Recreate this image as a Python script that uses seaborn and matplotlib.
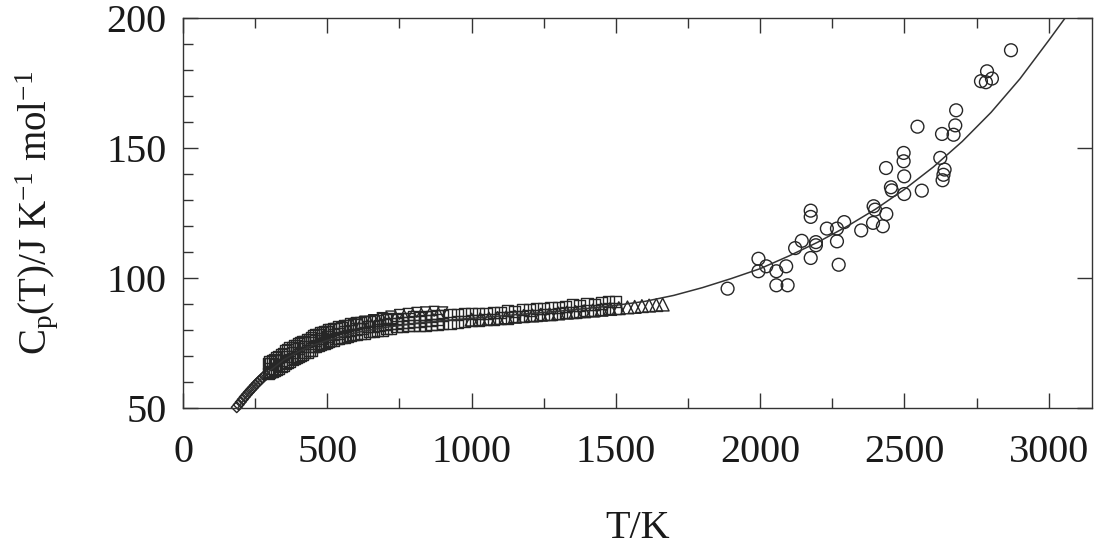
import matplotlib
matplotlib.use("Agg")
from matplotlib import pyplot as plt
from matplotlib.ticker import MultipleLocator
import seaborn as sns

# fitted curve
curve_T = [190, 220, 250, 280, 300, 350, 400, 450, 500, 600, 700, 800, 900, 1000,
           1100, 1200, 1300, 1400, 1500, 1600, 1700, 1800, 1900, 2000, 2100, 2200,
           2300, 2400, 2500, 2600, 2700, 2800, 2900, 3000, 3060, 3080]
curve_cp = [50.0, 54.6, 58.8, 62.3, 64.3, 68.6, 71.7, 74.1, 76.0, 79.0, 81.0, 82.5, 83.6, 84.5,
            85.4, 86.3, 87.2, 88.3, 89.5, 91.0, 93.3, 96.3, 99.8, 103.6, 108.5, 113.8,
            119.8, 126.5, 134.1, 142.7, 152.5, 163.7, 176.6, 191.4, 200.5, 203.5]

# diamonds (low temperature)
dia_T = [186, 193, 200, 207, 214, 221, 228, 235, 242, 249, 256, 263, 270, 277, 285]
dia_cp = [50.3, 51.3, 52.3, 53.3, 54.3, 55.2, 56.1, 57.0, 57.8, 58.7, 59.5, 60.3, 61.0, 61.8, 62.6]

# squares
sq_T = [295, 300, 305, 310, 318, 325, 332, 340, 348, 355, 362, 370, 378, 385, 392, 400,
        408, 415, 422, 430, 438, 445, 452, 460, 468, 475, 482, 490, 498, 505, 512, 520,
        530, 540, 550, 560, 570, 580, 590, 600, 615, 630, 645, 660, 675, 690, 705, 720,
        740, 760, 780, 800, 820, 840, 860, 880, 900, 925, 950, 975, 1000, 1025, 1050,
        1075, 1100, 1125, 1150, 1175, 1200, 1225, 1250, 1275, 1300, 1325, 1350, 1375,
        1400, 1425, 1450, 1475, 1500]
sq_cp_hi = [67.0, 67.8, 67.2, 68.1, 68.5, 69.3, 69.6, 70.5, 70.8, 72.1, 72.4, 73.1, 73.4, 74.0, 74.1, 74.8,
            75.1, 75.6, 75.7, 76.4, 76.5, 77.1, 77.7, 78.3, 78.2, 78.9, 79.0, 79.5, 79.4, 80.1, 80.0, 80.6,
            80.6, 81.2, 81.1, 81.7, 81.7, 82.3, 82.1, 82.7, 82.8, 83.3, 83.2, 83.8, 83.7, 84.3, 84.2, 84.4,
            84.0, 84.5, 84.4, 85.0, 84.9, 85.3, 85.2, 85.7, 85.6, 86.1, 86.0, 86.5, 86.2, 86.5, 86.4,
            86.9, 86.8, 87.4, 87.2, 87.8, 87.7, 88.2, 88.3, 88.6, 88.7, 89.0, 89.6, 89.4,
            90.0, 89.7, 90.4, 91.1, 90.9]
sq_cp_lo = [63.2, 63.6, 64.0, 63.9, 64.6, 65.0, 65.4, 66.1, 66.5, 67.0, 67.6, 67.9, 68.6, 68.9, 69.5, 69.8,
            70.4, 70.6, 71.2, 71.4, 72.0, 72.1, 73.5, 73.6, 74.2, 74.3, 74.8, 74.9, 75.4, 75.5, 76.0, 76.0,
            76.6, 76.6, 77.2, 77.2, 77.7, 77.8, 78.2, 78.3, 78.8, 78.8, 79.4, 79.4, 80.0, 80.0, 80.6, 80.6,
            81.2, 81.3, 81.6, 81.6, 81.6, 81.6, 82.1, 82.1, 82.6, 82.7, 83.1, 83.2, 83.6, 83.7, 84.1,
            84.2, 84.6, 84.6, 85.1, 85.1, 85.5, 85.6, 86.0, 86.1, 86.4, 86.6, 86.9, 87.0,
            87.4, 87.6, 87.9, 88.2, 88.4]
sq2_T = [300, 320, 340, 360, 380, 400, 420, 440, 460, 480, 500, 520, 540, 560, 580, 600,
         620, 640, 660, 680, 700, 720, 740, 760, 780, 800, 820, 840, 860, 880]
sq2_cp = [65.2, 66.8, 68.4, 69.8, 71.4, 72.8, 73.7, 75.0, 75.8, 76.8, 77.4, 78.3, 78.7, 79.4, 79.8, 80.4,
          80.6, 81.2, 81.4, 81.9, 82.0, 82.5, 82.5, 83.0, 82.9, 83.4, 83.4, 83.8, 83.8, 84.2]

# inverted triangles
vt_T = [600, 630, 660, 690, 720, 750, 780, 810, 840, 870, 900]
vt_cp = [82.8, 83.4, 84.0, 84.8, 85.4, 86.0, 86.4, 86.8, 87.0, 87.2, 87.0]

# triangles
tri_T = [1000, 1030, 1060, 1090, 1120, 1150, 1180, 1210, 1240, 1270, 1300, 1330, 1360,
         1390, 1420, 1450, 1480, 1510, 1540, 1565, 1590, 1615, 1640, 1662]
tri_cp = [84.0, 84.2, 84.4, 84.6, 84.9, 85.1, 85.4, 85.6, 85.9, 86.1, 86.4, 86.7, 86.9,
          87.2, 87.5, 87.8, 88.1, 88.4, 88.7, 88.9, 89.2, 89.4, 89.6, 89.8]

# circles (liquid)
circ_T = [1887, 1994, 1994, 2021, 2056, 2090, 2056, 2095, 2121, 2144, 2175, 2175, 2175, 2193,
          2193, 2231, 2266, 2266, 2272, 2291, 2350, 2393, 2398, 2391, 2425, 2437, 2436, 2453,
          2456, 2497, 2497, 2499, 2499, 2545, 2560, 2624, 2630, 2639, 2635, 2632, 2670, 2676,
          2679, 2765, 2786, 2782, 2803, 2869]
circ_cp = [95.9, 107.4, 102.6, 104.5, 102.6, 104.5, 97.2, 97.2, 111.5, 114.3, 125.9, 123.5, 107.7, 113.8,
           112.6, 119.0, 119.0, 114.1, 105.1, 121.5, 118.3, 127.6, 126.3, 121.2, 119.9, 124.6, 142.3, 134.9,
           133.7, 148.1, 144.9, 139.1, 132.3, 158.2, 133.6, 146.2, 155.4, 141.7, 139.7, 137.6, 155.1, 158.7,
           164.5, 175.7, 179.5, 175.3, 176.7, 187.6]

sns.set_theme(style="ticks")
plt.rcParams["font.family"] = ["Liberation Serif", "DejaVu Serif"]
plt.rcParams["mathtext.fontset"] = "custom"
plt.rcParams["mathtext.rm"] = "Liberation Serif"
plt.rcParams["mathtext.it"] = "Liberation Serif:italic"

fig = plt.figure(figsize=(10.98, 5.47), dpi=100)
ax = fig.add_axes([0.1667, 0.2541, 0.8279, 0.7130])

ink = "#262626"
mk = dict(facecolor="none", edgecolor=ink, linewidth=1.0, clip_on=False, legend=False)

sns.lineplot(x=curve_T, y=curve_cp, color="#333333", linewidth=1.1, ax=ax)
sns.scatterplot(x=dia_T, y=dia_cp, marker="D", s=30, ax=ax, **mk)
sns.scatterplot(x=sq_T, y=sq_cp_hi, marker="s", s=64, ax=ax, **mk)
sns.scatterplot(x=sq_T, y=sq_cp_lo, marker="s", s=64, ax=ax, **mk)
sns.scatterplot(x=sq2_T, y=sq2_cp, marker="s", s=64, ax=ax, **mk)
sns.scatterplot(x=vt_T, y=vt_cp, marker="v", s=50, ax=ax, **mk)
sns.scatterplot(x=tri_T, y=tri_cp, marker="^", s=85, ax=ax, **mk)
sns.scatterplot(x=circ_T, y=circ_cp, marker="o", s=85, ax=ax, **mk)

ax.set_xlim(0, 3150)
ax.set_ylim(50, 200)
ax.xaxis.set_major_locator(MultipleLocator(500))
ax.xaxis.set_minor_locator(MultipleLocator(250))
ax.yaxis.set_major_locator(MultipleLocator(50))
ax.yaxis.set_minor_locator(MultipleLocator(10))

ax.tick_params(which="both", direction="in", top=True, right=True, color="#333333",
               width=1.0, labelsize=29, labelcolor="#1a1a1a", pad=12)
ax.tick_params(axis="x", which="both", pad=19)
ax.tick_params(which="major", length=10.8)
ax.tick_params(which="minor", length=7.2, right=False)
for sp in ax.spines.values():
    sp.set_color("#333333")
    sp.set_linewidth(1.0)

ax.set_xlabel("T/K", fontsize=29, color="#1a1a1a", labelpad=28)
ax.set_ylabel(r"C$_\mathrm{p}$(T)/J K$^\mathrm{-1}$ mol$^\mathrm{-1}$", fontsize=28,
              color="#1a1a1a", labelpad=33)

fig.savefig("out.png", dpi=100)
